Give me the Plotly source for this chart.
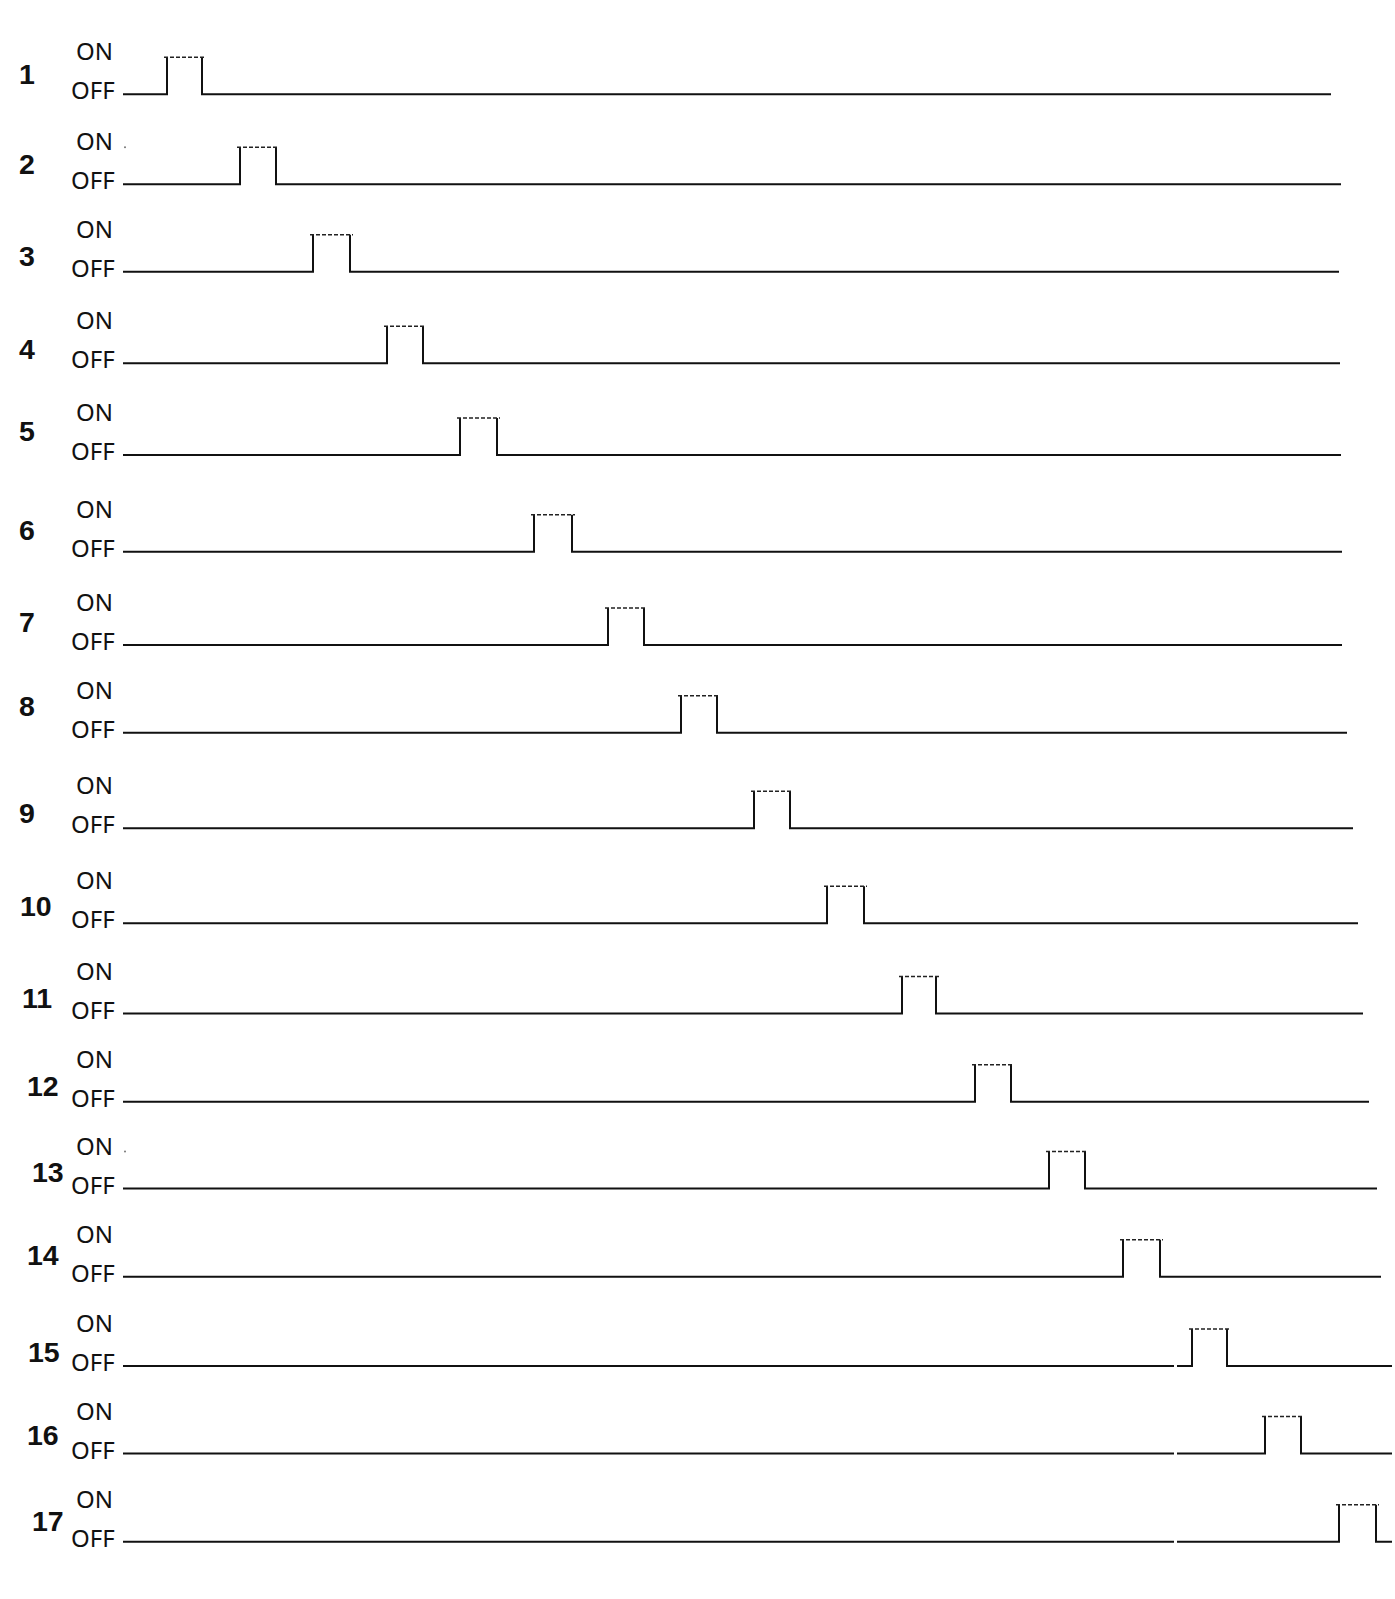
import plotly.graph_objects as go

# ---------------- data ----------------
channels = [str(i) for i in range(1, 18)]
# pulse rising / falling edge times (same units as the horizontal axis)
rise_t = [167, 240, 313, 387, 460, 534, 608, 681, 754, 827, 902, 975, 1049, 1123, 1192, 1265, 1339]
fall_t = [202, 276, 350, 423, 497, 572, 644, 717, 790, 864, 936, 1011, 1085, 1160, 1227, 1301, 1376]
# where each trace ends
end_t = [1331, 1341, 1339, 1340, 1341, 1342, 1342, 1347, 1353, 1358, 1363, 1369, 1377, 1381, 1392, 1392, 1392]
state_labels = ["ON", "OFF"]

# ---------------- layout constants ----------------
W, H = 1395, 1599
baseline = [94.3, 184.3, 271.7, 363.3, 455, 551.7, 645, 732.7, 828.3, 923.2, 1013.5, 1101.8,
            1188.5, 1276.7, 1366, 1453.5, 1541.7]
pulse_h = 37
start_x = 123
split_x = 1174
num_dy = [20, 20, 15.7, 14.3, 24, 21.7, 23.3, 26.7, 15.3, 17, 15.5, 16, 17, 22, 14, 19, 21]
num_x = [27] * 9 + [36, 36.5, 42.5, 47.5, 43, 44, 43, 47.5]
right_gap = [0] * 14 + [3, 3, 3]
dot_rows = [1, 12]

solid_x, solid_y, dash_x, dash_y = [], [], [], []


def add_path(xs, ys):
    solid_x.extend(xs + [None])
    solid_y.extend(ys + [None])


for i in range(len(channels)):
    b = baseline[i]
    top = b - pulse_h
    r, f, e = rise_t[i], fall_t[i], end_t[i]
    g = right_gap[i]
    if split_x < r:
        add_path([start_x, split_x], [b, b])
        add_path([split_x + g, r, r], [b, b, top])
        add_path([f, f, e], [top, b, b])
    else:
        add_path([start_x, r, r], [b, b, top])
        add_path([f, f, split_x], [top, b, b])
        add_path([split_x + g, e], [b, b])
    dash_x.extend([r - 3, f + 3, None])
    dash_y.extend([top, top, None])

fig = go.Figure()
fig.add_trace(go.Scatter(x=solid_x, y=solid_y, mode="lines",
                         line=dict(color="#111111", width=2), hoverinfo="skip"))
fig.add_trace(go.Scatter(x=dash_x, y=dash_y, mode="lines",
                         line=dict(color="#222222", width=1.5, dash="4px,2px"), hoverinfo="skip"))
fig.add_trace(go.Scatter(x=[start_x + 2 for _ in dot_rows],
                         y=[baseline[k] - pulse_h for k in dot_rows], mode="markers",
                         marker=dict(color="#777777", size=2), hoverinfo="skip"))

annotations = []
for i, ch in enumerate(channels):
    b = baseline[i]
    annotations.append(dict(x=num_x[i], y=b - num_dy[i], text="<b>%s</b>" % ch, showarrow=False,
                            xanchor="center", yanchor="middle",
                            font=dict(family="Liberation Sans, Arial", size=28.5, color="#111111")))
    annotations.append(dict(x=94, y=b - 43.5, text=state_labels[0], showarrow=False,
                            xanchor="center", yanchor="middle",
                            font=dict(family="Noto Sans", size=24, color="#111111")))
    annotations.append(dict(x=93.2, y=b - 4.5, text=state_labels[1], showarrow=False,
                            xanchor="center", yanchor="middle",
                            font=dict(family="Noto Sans", size=24, color="#111111")))

fig.update_layout(
    width=W, height=H, margin=dict(l=0, r=0, t=0, b=0),
    paper_bgcolor="white", plot_bgcolor="white", showlegend=False,
    xaxis=dict(range=[0, W], visible=False, fixedrange=True),
    yaxis=dict(range=[H, 0], visible=False, fixedrange=True),
    annotations=annotations,
)

fig.write_html("out.html", config={"displayModeBar": False},
               post_script="document.body.style.margin='0';document.body.style.overflow='hidden';")
